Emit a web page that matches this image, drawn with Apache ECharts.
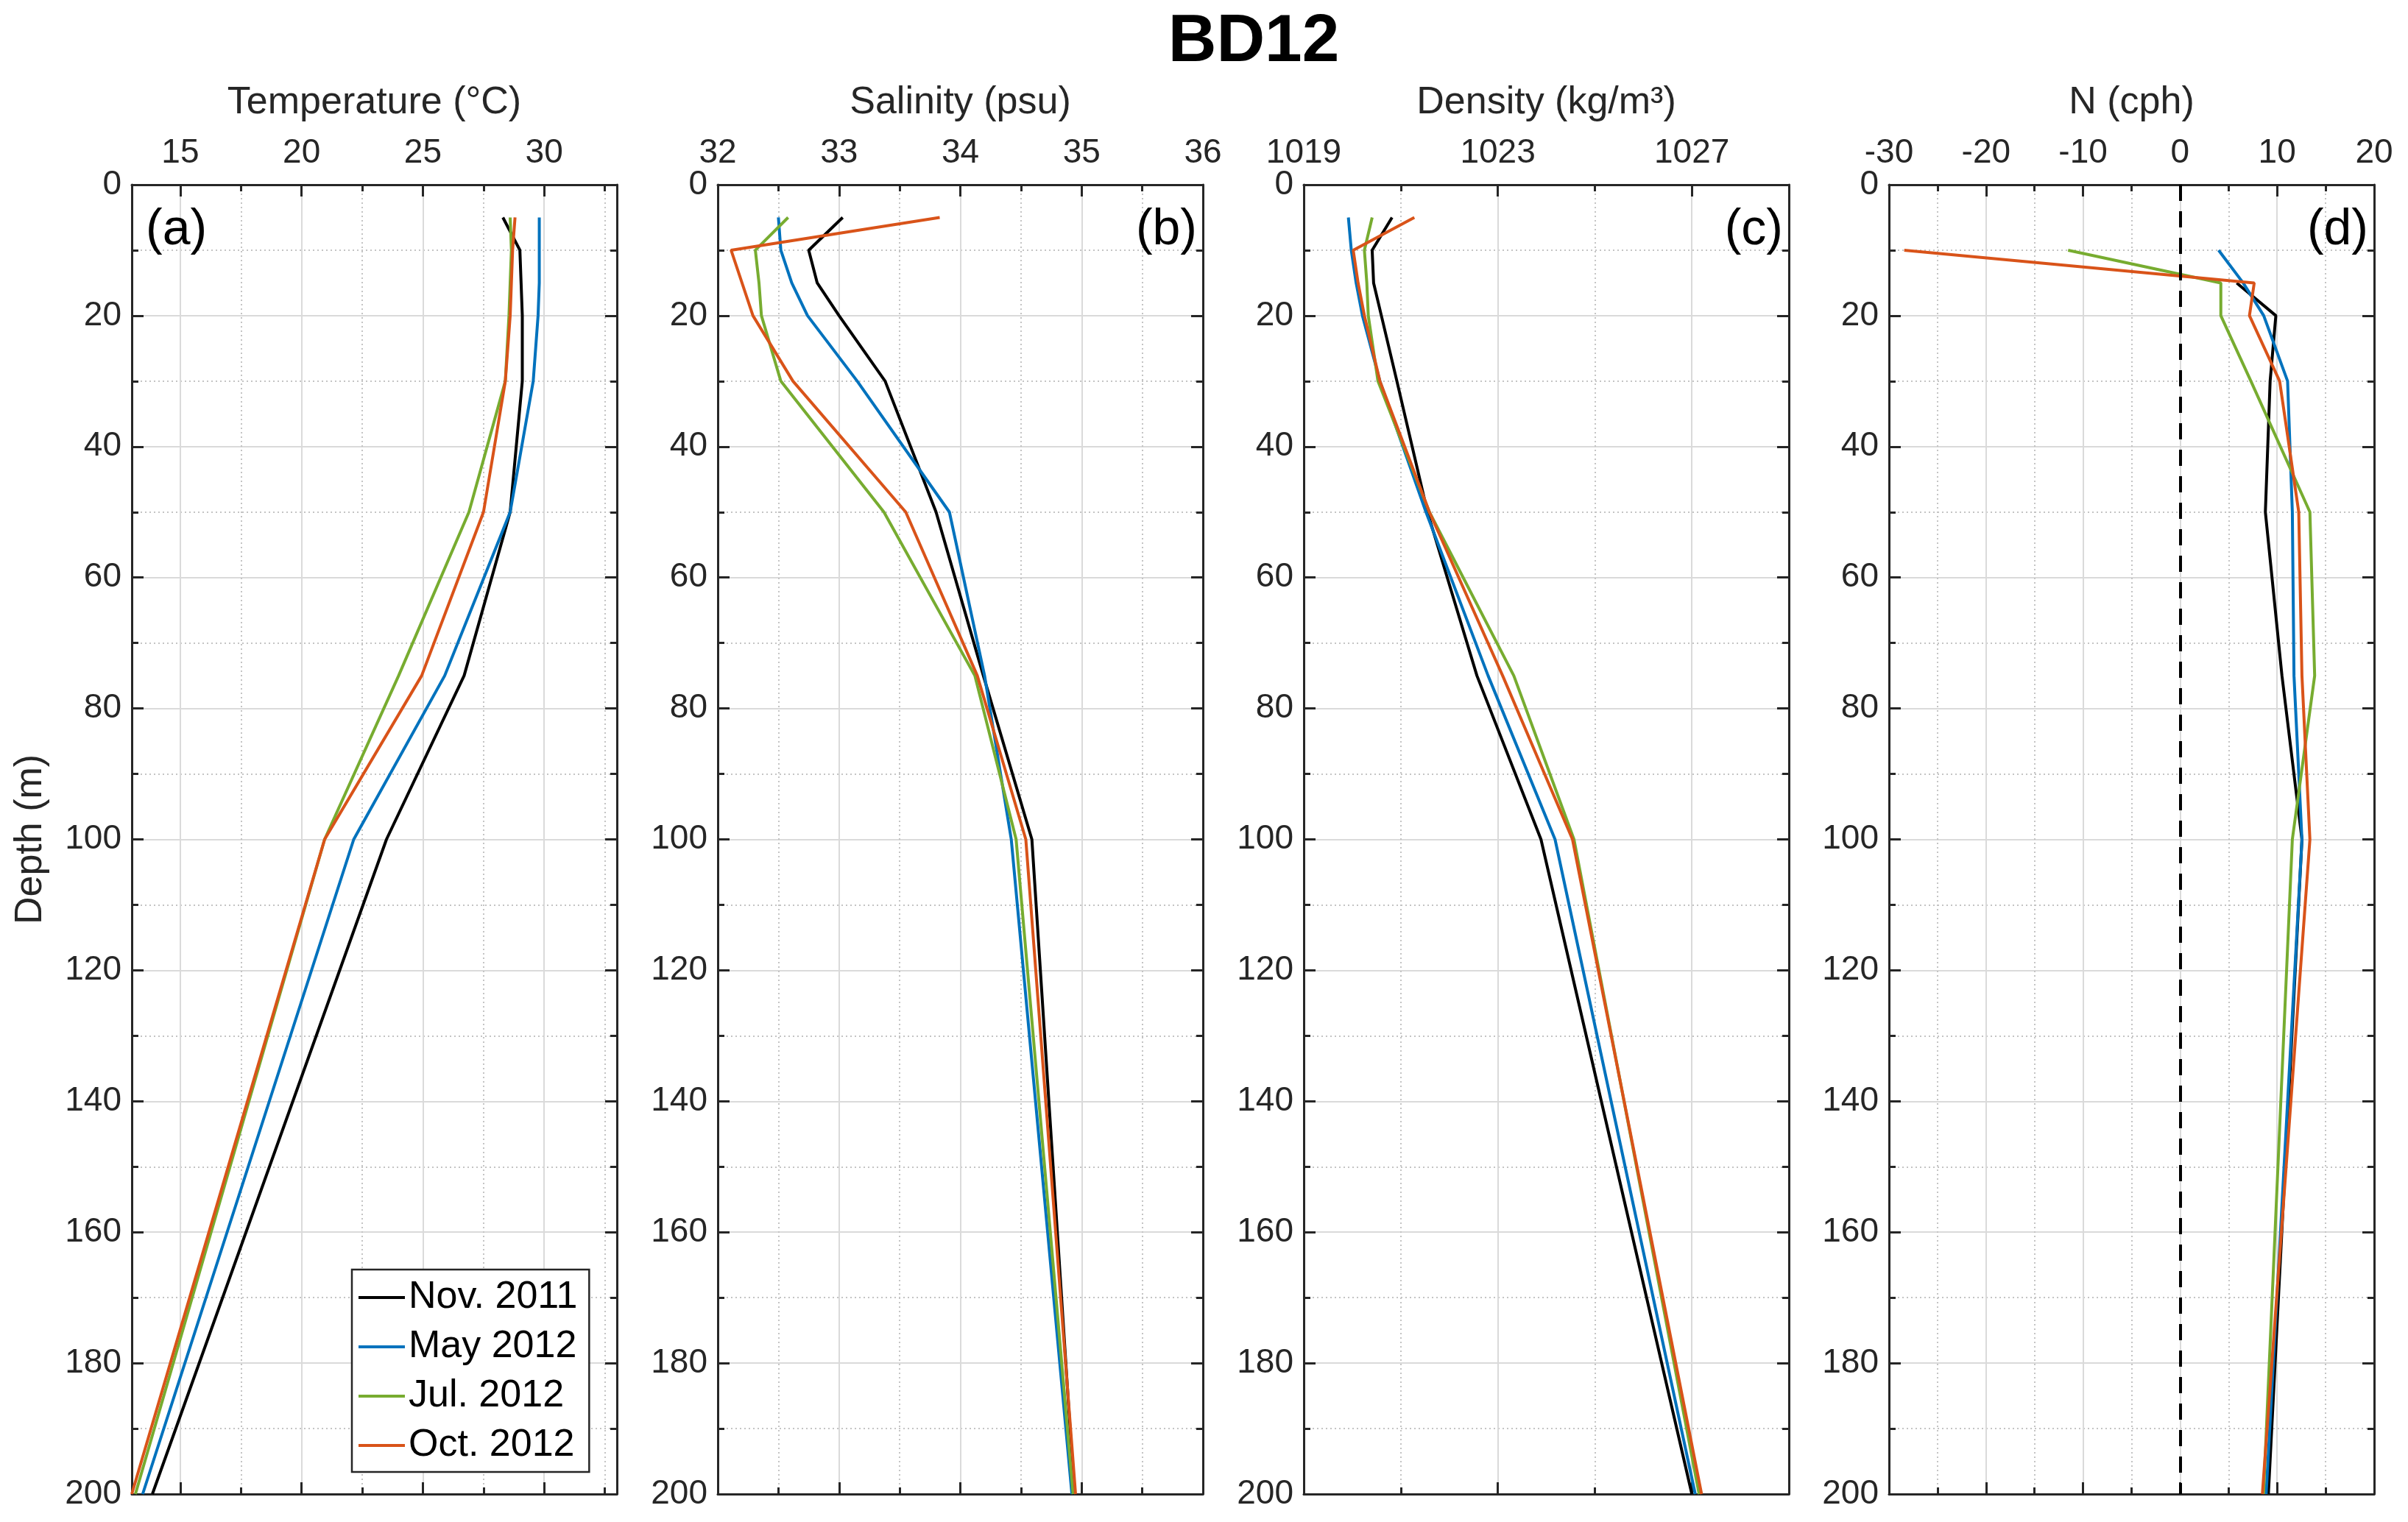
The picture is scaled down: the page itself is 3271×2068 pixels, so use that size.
<!DOCTYPE html>
<html lang="en">

<head>
	<meta charset="UTF-8">
	<title>BD12 profiles</title>
	<script src="https://cdn.jsdelivr.net/npm/echarts@6.0.0/dist/echarts.min.js"></script>
	<style>
		html, body { margin: 0; padding: 0; background: #fff; }
		#main { width: 3271px; height: 2068px; }
	</style>
</head>

<body>
	<div id="main"></div>

	<script>
		// sampling depths (m), shared by every profile
		var depths = [5, 10, 15, 20, 30, 50, 75, 100, 200];
		var cruises = ['Nov. 2011', 'May 2012', 'Jul. 2012', 'Oct. 2012'];
		var colors = ['#000000', '#0072BD', '#77AC30', '#D95319'];

		// (a) temperature, °C
		var tempNov = [28.3, 29.0, 29.05, 29.1, 29.1, 28.6, 26.7, 23.5, 13.85];
		var tempMay = [29.8, 29.8, 29.8, 29.75, 29.55, 28.6, 25.9, 22.15, 13.45];
		var tempJul = [28.6, 28.65, 28.6, 28.55, 28.4, 26.9, 24.0, 20.95, 13.15];
		var tempOct = [28.8, 28.7, 28.65, 28.6, 28.4, 27.5, 24.95, 20.95, 13.0];

		// (b) salinity, psu
		var salNov = [33.03, 32.75, 32.82, 33.0, 33.38, 33.8, 34.19, 34.59, 34.94];
		var salMay = [32.5, 32.52, 32.61, 32.74, 33.15, 33.91, 34.2, 34.42, 34.92];
		var salJul = [32.58, 32.31, 32.34, 32.36, 32.52, 33.37, 34.12, 34.46, 34.93];
		var salOct = [33.83, 32.11, 32.2, 32.29, 32.62, 33.55, 34.14, 34.54, 34.95];

		// (c) density, kg/m3
		var densNov = [1020.82, 1020.41, 1020.44, 1020.6, 1020.92, 1021.55, 1022.57, 1023.89, 1027.0];
		var densMay = [1019.92, 1019.98, 1020.08, 1020.21, 1020.57, 1021.52, 1022.8, 1024.18, 1027.07];
		var densJul = [1020.41, 1020.25, 1020.3, 1020.33, 1020.53, 1021.59, 1023.33, 1024.57, 1027.15];
		var densOct = [1021.28, 1020.02, 1020.12, 1020.25, 1020.57, 1021.59, 1023.1, 1024.54, 1027.2];

		// (d) buoyancy frequency, cph (null = not computed at that depth)
		var nNov = [null, null, 5.84, 9.87, 9.28, 8.79, 10.5, 12.56, 9.1];
		var nMay = [null, 3.97, 6.5, 8.62, 11.08, 11.57, 11.74, 12.56, 8.87];
		var nJul = [null, -11.54, 4.2, 4.2, 7.3, 13.38, 13.87, 11.57, 8.6];
		var nOct = [null, -28.43, 7.64, 7.15, 10.26, 12.23, 12.56, 13.38, 8.48];

		// tick labels and tick positions
		var depthLabels = [0, 20, 40, 60, 80, 100, 120, 140, 160, 180, 200];
		var depthMajor = [20, 40, 60, 80, 100, 120, 140, 160, 180];
		var depthMinor = [10, 30, 50, 70, 90, 110, 130, 150, 170, 190];
		var tempLabels = [15, 20, 25, 30];
		var tempMajor = [15, 20, 25, 30];
		var tempMinor = [17.5, 22.5, 27.5, 32.5];
		var salLabels = [32, 33, 34, 35, 36];
		var salMajor = [33, 34, 35];
		var salMinor = [32.5, 33.5, 34.5, 35.5];
		var densLabels = [1019, 1023, 1027];
		var densMajor = [1023, 1027];
		var densMinor = [1021, 1025];
		var nLabels = [-30, -20, -10, 0, 10, 20];
		var nMajor = [-20, -10, 0, 10];
		var nMinor = [-25, -15, -5, 5, 15];

		var panels = [
			{ title: 'Temperature (°C)', tag: '(a)', min: 13, max: 33, labels: tempLabels, major: tempMajor, minor: tempMinor, values: [tempNov, tempMay, tempJul, tempOct] },
			{ title: 'Salinity (psu)', tag: '(b)', min: 32, max: 36, labels: salLabels, major: salMajor, minor: salMinor, values: [salNov, salMay, salJul, salOct] },
			{ title: 'Density (kg/m³)', tag: '(c)', min: 1019, max: 1029, labels: densLabels, major: densMajor, minor: densMinor, values: [densNov, densMay, densJul, densOct] },
			{ title: 'N (cph)', tag: '(d)', min: -30, max: 20, labels: nLabels, major: nMajor, minor: nMinor, values: [nNov, nMay, nJul, nOct] }
		];

		// layout
		var gridLeft = [179, 975, 1771, 2566];
		var gridTop = 251;
		var gridWidth = 659;
		var gridHeight = 1779;

		var FONT = 'Liberation Sans, Arial, Helvetica, sans-serif';
		var INK = '#262626';

		function makeAxis(gridIndex, position, min, max, ticks, tickLen) {
			return {
				type: 'value',
				gridIndex: gridIndex,
				position: position,
				min: min,
				max: max,
				axisLine: { show: false, onZero: false },
				axisTick: {
					show: true, inside: true, length: tickLen, customValues: ticks,
					lineStyle: { color: INK, width: 3 }
				},
				axisLabel: { show: false },
				splitLine: { show: false },
				axisPointer: { show: false }
			};
		}

		var boxLine = { show: true, onZero: false, lineStyle: { color: INK, width: 3 } };
		var majorSplit = { show: true, lineStyle: { color: '#dadada', width: 2, type: 'solid' } };
		var minorSplit = { show: true, lineStyle: { color: '#c4c4c4', width: 2, type: [2, 4] } };
		var tickFont = {
			show: true, fontSize: 46, color: INK, fontFamily: FONT,
			formatter: function (v) { return String(v); }
		};

		var chart = echarts.init(document.getElementById('main'));

		var option = {
			animation: false,
			backgroundColor: '#fff',
			textStyle: { fontFamily: FONT },
			grid: [],
			xAxis: [],
			yAxis: [],
			series: [],
			legend: {
				data: cruises,
				orient: 'vertical',
				left: 478,
				top: 1725,
				padding: [8, 16, 6, 9],
				itemGap: 7,
				itemWidth: 63,
				itemHeight: 4,
				icon: 'rect',
				selectedMode: false,
				backgroundColor: '#fff',
				borderColor: INK,
				borderWidth: 2.5,
				borderRadius: 0,
				textStyle: { fontSize: 52, lineHeight: 60, color: '#000', fontFamily: FONT }
			},
			graphic: [{
				type: 'text', x: 1703, y: 58, z: 10,
				style: { text: 'BD12', fontSize: 91, fontWeight: 'bold', fontFamily: FONT, fill: '#000', align: 'center', verticalAlign: 'middle' }
			}]
		};

		panels.forEach(function (p, i) {
			option.grid.push({
				left: gridLeft[i], top: gridTop, width: gridWidth, height: gridHeight,
				containLabel: false, outerBoundsMode: 'none'
			});

			// x: top major (labels + solid grid), top minor (dotted grid), bottom mirrors
			var xTop = makeAxis(i, 'top', p.min, p.max, p.major, 16);
			xTop.axisLine = boxLine;
			xTop.splitLine = majorSplit;
			xTop.axisLabel = Object.assign({ customValues: p.labels, margin: 20 }, tickFont);
			xTop.name = p.title;
			xTop.nameLocation = 'middle';
			xTop.nameGap = 85;
			xTop.nameTextStyle = { fontSize: 52, color: INK, fontFamily: FONT };
			var xTopMinor = makeAxis(i, 'top', p.min, p.max, p.minor, 9);
			xTopMinor.splitLine = minorSplit;
			var xBot = makeAxis(i, 'bottom', p.min, p.max, p.major, 16);
			xBot.axisLine = boxLine;
			var xBotMinor = makeAxis(i, 'bottom', p.min, p.max, p.minor, 9);
			option.xAxis.push(xTop, xTopMinor, xBot, xBotMinor);

			// y: depth, inverted, mirrored on the right
			var yLeft = makeAxis(i, 'left', 0, 200, depthMajor, 16);
			yLeft.inverse = true;
			yLeft.axisLine = boxLine;
			yLeft.splitLine = majorSplit;
			yLeft.axisLabel = Object.assign({ customValues: depthLabels, margin: 14 }, tickFont);
			if (i === 0) {
				yLeft.name = 'Depth (m)';
				yLeft.nameLocation = 'middle';
				yLeft.nameGap = 111;
				yLeft.nameRotate = 90;
				yLeft.nameTextStyle = { fontSize: 52, color: INK, fontFamily: FONT };
			}
			var yLeftMinor = makeAxis(i, 'left', 0, 200, depthMinor, 9);
			yLeftMinor.inverse = true;
			yLeftMinor.splitLine = minorSplit;
			var yRight = makeAxis(i, 'right', 0, 200, depthMajor, 16);
			yRight.inverse = true;
			yRight.axisLine = boxLine;
			var yRightMinor = makeAxis(i, 'right', 0, 200, depthMinor, 9);
			yRightMinor.inverse = true;
			option.yAxis.push(yLeft, yLeftMinor, yRight, yRightMinor);

			p.values.forEach(function (vals, k) {
				var pts = [];
				depths.forEach(function (d, j) {
					if (vals[j] !== null) pts.push([vals[j], d]);
				});
				var s = {
					name: cruises[k],
					type: 'line',
					xAxisIndex: i * 4,
					yAxisIndex: i * 4,
					data: pts,
					showSymbol: false,
					symbol: 'none',
					color: colors[k],
					lineStyle: { color: colors[k], width: 4 },
					z: 3
				};
				// zero reference in the N panel
				if (i === 3 && k === 0) {
					s.markLine = {
						silent: true,
						symbol: 'none',
						label: { show: false },
						lineStyle: { color: '#000', width: 4, type: [22, 14] },
						data: [{ xAxis: 0 }]
					};
				}
				option.series.push(s);
			});

			option.graphic.push({
				type: 'text',
				x: i === 0 ? gridLeft[i] + 19 : gridLeft[i] + gridWidth - 8,
				y: 313,
				z: 10,
				style: {
					text: p.tag, fontSize: 68, fontFamily: FONT, fill: '#000',
					align: i === 0 ? 'left' : 'right', verticalAlign: 'middle'
				}
			});
		});

		chart.setOption(option);
	</script>
</body>

</html>
